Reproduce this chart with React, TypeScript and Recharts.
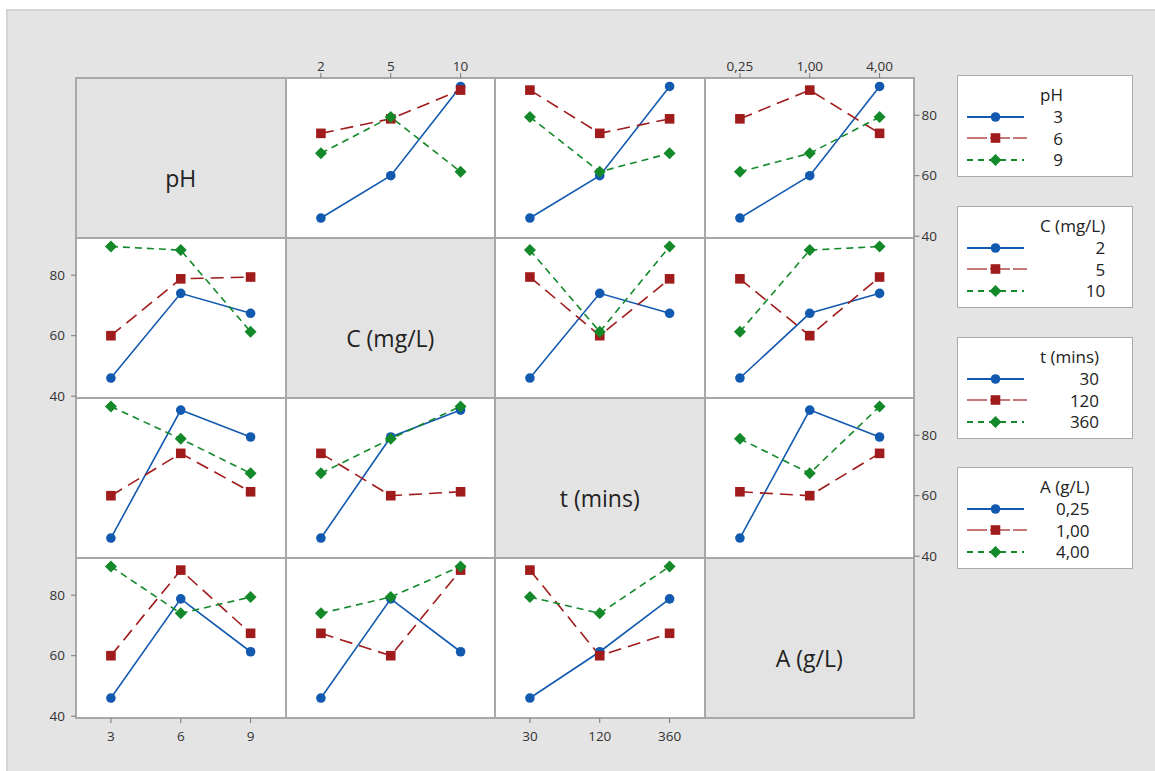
import React from 'react';
import { LineChart, Line, XAxis, YAxis } from 'recharts';

// factor names and their levels
const factorNames = ['pH', 'C (mg/L)', 't (mins)', 'A (g/L)'];
const phLevels = ['3', '6', '9'];
const cLevels = ['2', '5', '10'];
const tLevels = ['30', '120', '360'];
const aLevels = ['0,25', '1,00', '4,00'];

// L9 design: level index of each factor per run, and the response
const runPH = [0, 0, 0, 1, 1, 1, 2, 2, 2];
const runC = [0, 1, 2, 0, 1, 2, 0, 1, 2];
const runT = [0, 1, 2, 1, 2, 0, 2, 0, 1];
const runA = [0, 1, 2, 2, 0, 1, 1, 2, 0];
const response = [46, 60, 89.5, 74, 78.8, 88.3, 67.4, 79.4, 61.3];

const yTicks = [40, 60, 80];
const yDomain = [39.4, 92.3];

const levelSets = [phLevels, cLevels, tLevels, aLevels];
const runLevels = [runPH, runC, runT, runA];

const COLORS = ['#1259b0', '#a01c1c', '#13892a'];
const DASHES = [undefined, '13 7', '7 5'];

const GRID_LEFT = 76;
const GRID_TOP = 78;
const CELL_W = 209.5;
const CELL_H = 160;
const PAD = 40;
const FONT = '"Open Sans", "Noto Sans", sans-serif';

// mean response for every (column level, row level) pair
const panelData = (row: number, col: number) =>
  levelSets[col].map((label, xi) => {
    const point: any = { x: label };
    levelSets[row].forEach((_, li) => {
      const vals = response.filter((_, k) => runLevels[col][k] === xi && runLevels[row][k] === li);
      point['s' + li] = vals.reduce((a, b) => a + b, 0) / vals.length;
    });
    return point;
  });

const Marker = ({ kind, cx, cy }: { kind: number; cx: number; cy: number }) => {
  if (kind === 0) return <circle cx={cx} cy={cy} r={4.8} fill={COLORS[0]} />;
  if (kind === 1) return <rect x={cx - 4.8} y={cy - 4.8} width={9.6} height={9.6} fill={COLORS[1]} />;
  return <polygon points={`${cx},${cy - 6} ${cx + 6},${cy} ${cx},${cy + 6} ${cx - 6},${cy}`} fill={COLORS[2]} />;
};

const dotFor = (kind: number) => (props: any) => (
  <Marker key={`m-${kind}-${props.index}`} kind={kind} cx={props.cx} cy={props.cy} />
);

const tickStyle = { fill: '#333', fontSize: 13.5, fontFamily: FONT };

const Panel = ({ row, col }: { row: number; col: number }) => {
  const showTop = row === 0 && (col === 1 || col === 3);
  const showBottom = row === 3 && (col === 0 || col === 2);
  const showLeft = col === 0 && (row === 1 || row === 3);
  const showRight = col === 3 && (row === 0 || row === 2);
  const data = panelData(row, col);
  return (
    <div
      style={{
        position: 'absolute',
        left: GRID_LEFT + col * CELL_W - PAD,
        top: GRID_TOP + row * CELL_H - PAD,
      }}
    >
      <LineChart
        width={CELL_W + 2 * PAD}
        height={CELL_H + 2 * PAD}
        data={data}
        margin={{
          top: showTop ? 0 : PAD,
          bottom: showBottom ? 0 : PAD,
          left: showLeft ? 0 : PAD,
          right: showRight ? 0 : PAD,
        }}
      >
        <XAxis
          dataKey="x"
          type="category"
          orientation={row === 0 ? 'top' : 'bottom'}
          hide={!(showTop || showBottom)}
          height={PAD}
          padding={{ left: CELL_W / 6, right: CELL_W / 6 }}
          axisLine={false}
          tickLine={{ stroke: '#777' }}
          tickSize={5}
          tickMargin={showTop ? 2 : 8}
          tick={tickStyle}
          interval={0}
        />
        <YAxis
          type="number"
          domain={yDomain}
          ticks={yTicks}
          allowDataOverflow
          orientation={col === 3 ? 'right' : 'left'}
          hide={!(showLeft || showRight)}
          width={PAD}
          axisLine={false}
          tickLine={{ stroke: '#777' }}
          tickSize={5}
          tickMargin={showLeft ? 6 : 2}
          tick={tickStyle}
        />
        {levelSets[row].map((_, li) => (
          <Line
            key={li}
            dataKey={'s' + li}
            stroke={COLORS[li]}
            strokeWidth={1.6}
            strokeDasharray={DASHES[li]}
            dot={dotFor(li)}
            activeDot={false}
            isAnimationActive={false}
          />
        ))}
      </LineChart>
    </div>
  );
};

const LegendSample = ({ kind }: { kind: number }) => (
  <svg width={62} height={14} style={{ display: 'block' }}>
    <line
      x1={1}
      y1={7}
      x2={kind === 1 ? 61 : 58}
      y2={7}
      stroke={COLORS[kind]}
      strokeOpacity={kind === 1 ? 0.6 : 1}
      strokeWidth={1.8}
      strokeDasharray={kind === 1 ? '20 3' : kind === 2 ? '6 5' : undefined}
    />
    <Marker kind={kind} cx={29.5} cy={7} />
  </svg>
);

const legendTops = [75, 206, 337, 467];

const FactorLegend = ({ index }: { index: number }) => (
  <div
    style={{
      position: 'absolute',
      left: 957,
      top: legendTops[index],
      width: 176,
      height: 102,
      background: '#fff',
      border: '1.5px solid #ababab',
      boxSizing: 'border-box',
      fontFamily: FONT,
      color: '#222',
    }}
  >
    <div style={{ position: 'absolute', left: 82, top: 8, display: 'inline-block', fontSize: 17 }}>
      <div style={{ height: 22, lineHeight: '22px', whiteSpace: 'nowrap' }}>{factorNames[index]}</div>
      {levelSets[index].map((l) => (
        <div key={l} style={{ height: 21.5, lineHeight: '21.5px', textAlign: 'right' }}>
          {l}
        </div>
      ))}
    </div>
    {levelSets[index].map((l, li) => (
      <div key={l} style={{ position: 'absolute', left: 8, top: 8 + 22 + li * 21.5 + 3.75 }}>
        <LegendSample kind={li} />
      </div>
    ))}
  </div>
);

const App = () => {
  const gridLines: React.ReactNode[] = [];
  for (let k = 0; k <= 4; k++) {
    gridLines.push(
      <div
        key={'v' + k}
        style={{
          position: 'absolute',
          left: GRID_LEFT + k * CELL_W - 1,
          top: GRID_TOP - 1,
          width: 2,
          height: 4 * CELL_H + 2,
          background: '#a8a8a8',
        }}
      />
    );
    gridLines.push(
      <div
        key={'h' + k}
        style={{
          position: 'absolute',
          left: GRID_LEFT - 1,
          top: GRID_TOP + k * CELL_H - 1,
          width: 4 * CELL_W + 2,
          height: 2,
          background: '#a8a8a8',
        }}
      />
    );
  }

  const cells: React.ReactNode[] = [];
  for (let r = 0; r < 4; r++) {
    for (let c = 0; c < 4; c++) {
      cells.push(
        <div
          key={`c-${r}-${c}`}
          style={{
            position: 'absolute',
            left: GRID_LEFT + c * CELL_W,
            top: GRID_TOP + r * CELL_H,
            width: CELL_W,
            height: CELL_H,
            background: r === c ? '#e3e3e3' : '#fff',
          }}
        >
          {r === c && (
            <div
              style={{
                position: 'absolute',
                left: 0,
                width: '100%',
                top: CELL_H / 2 + 20,
                transform: 'translateY(-50%)',
                textAlign: 'center',
                fontFamily: FONT,
                fontSize: 23,
                color: '#222',
              }}
            >
              {factorNames[r]}
            </div>
          )}
        </div>
      );
    }
  }

  const panels: React.ReactNode[] = [];
  for (let r = 0; r < 4; r++) {
    for (let c = 0; c < 4; c++) {
      if (r !== c) panels.push(<Panel key={`p-${r}-${c}`} row={r} col={c} />);
    }
  }

  return (
    <div style={{ position: 'absolute', left: 0, top: 0, width: 1155, height: 771, background: '#fff', overflow: 'hidden' }}>
      <div
        style={{
          position: 'absolute',
          left: 6,
          top: 9,
          width: 1160,
          height: 780,
          background: '#e4e4e4',
          borderLeft: '2px solid #d4d4d4',
          borderTop: '2px solid #d4d4d4',
        }}
      />
      {cells}
      {gridLines}
      {panels}
      {[0, 1, 2, 3].map((i) => (
        <FactorLegend key={i} index={i} />
      ))}
    </div>
  );
};

export default App;
